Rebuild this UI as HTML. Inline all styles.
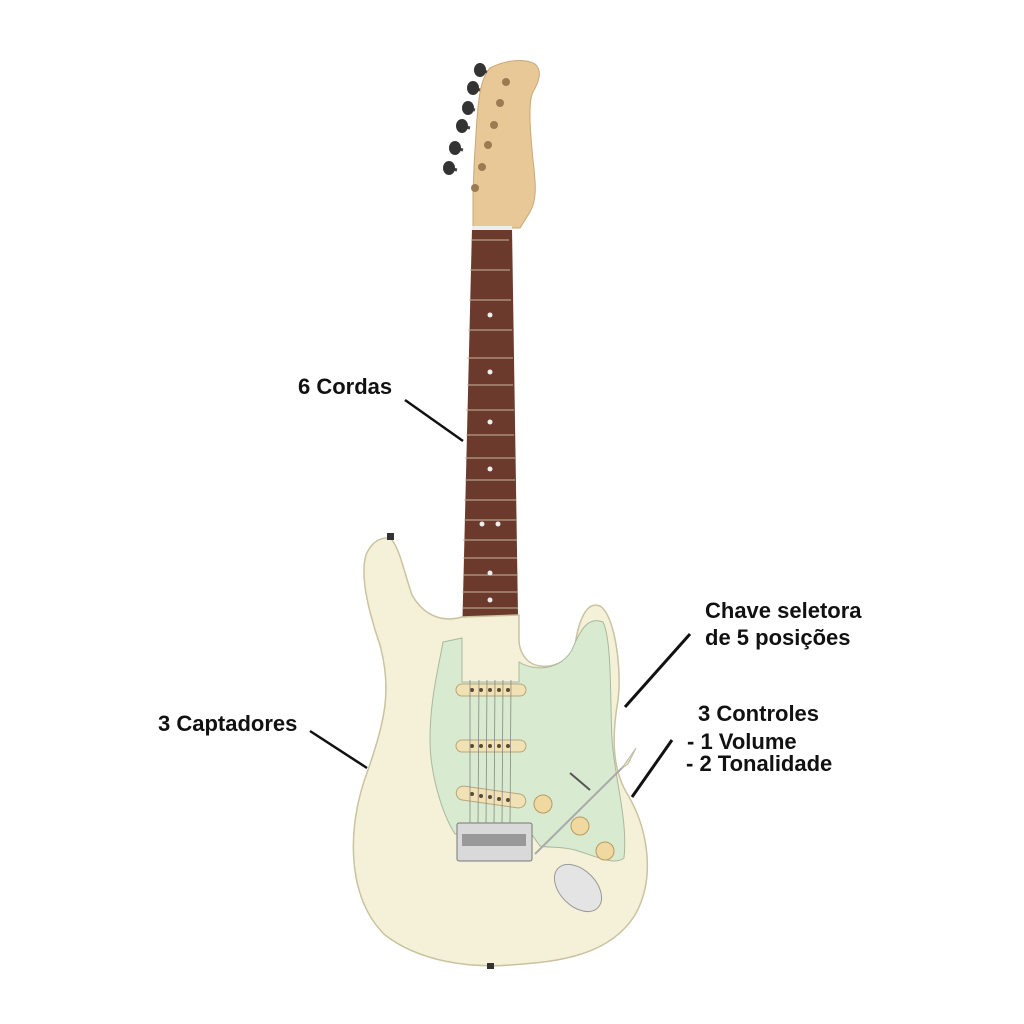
<!DOCTYPE html>
<html><head><meta charset="utf-8"><style>
html,body{margin:0;padding:0;background:#fff;width:1024px;height:1024px;overflow:hidden}
svg{display:block}
text{font-family:"Liberation Sans",sans-serif;font-weight:bold;font-size:22px;fill:#111}
</style></head><body>
<svg width="1024" height="1024" viewBox="0 0 1024 1024">
<!-- headstock -->
<path d="M473,228 L473,193 C474,160 476,130 478,107 C480,88 483,76 490,68 C505,60 525,58 535,64 C542,70 540,80 533,92 C528,102 530,130 533,160 C536,185 537,200 530,212 L520,228 Z" fill="#e8c896" stroke="#c9a777" stroke-width="1"/>
<g stroke="#444" stroke-width="3"><line x1="487" y1="72" x2="478" y2="70"/><line x1="480" y1="90" x2="471" y2="88"/><line x1="475" y1="110" x2="466" y2="108"/><line x1="470" y1="128" x2="461" y2="126"/><line x1="463" y1="150" x2="454" y2="148"/><line x1="457" y1="170" x2="448" y2="168"/></g>
<g fill="#333">
<ellipse cx="480" cy="70" rx="6" ry="7"/><ellipse cx="473" cy="88" rx="6" ry="7"/><ellipse cx="468" cy="108" rx="6" ry="7"/><ellipse cx="462" cy="126" rx="6" ry="7"/><ellipse cx="455" cy="148" rx="6" ry="7"/><ellipse cx="449" cy="168" rx="6" ry="7"/>
</g>
<g fill="#9c7b52">
<circle cx="506" cy="82" r="4"/><circle cx="500" cy="103" r="4"/><circle cx="494" cy="125" r="4"/><circle cx="488" cy="145" r="4"/><circle cx="482" cy="167" r="4"/><circle cx="475" cy="188" r="4"/>
</g>
<!-- neck -->
<path d="M472,228 L512,228 L519,680 L461,680 Z" fill="#6b3a2c"/>
<rect x="472" y="226" width="40" height="4" fill="#eee"/>
<g stroke="#c9b6a0" stroke-width="1">
<line x1="471" y1="240" x2="509" y2="240"/><line x1="470" y1="270" x2="510" y2="270"/><line x1="469" y1="300" x2="511" y2="300"/><line x1="468" y1="330" x2="512" y2="330"/><line x1="467" y1="358" x2="513" y2="358"/><line x1="467" y1="385" x2="513" y2="385"/><line x1="466" y1="410" x2="514" y2="410"/><line x1="466" y1="435" x2="514" y2="435"/><line x1="465" y1="458" x2="515" y2="458"/><line x1="465" y1="480" x2="515" y2="480"/><line x1="464" y1="500" x2="516" y2="500"/><line x1="464" y1="520" x2="516" y2="520"/><line x1="463" y1="540" x2="517" y2="540"/><line x1="463" y1="558" x2="517" y2="558"/><line x1="463" y1="575" x2="517" y2="575"/><line x1="462" y1="592" x2="518" y2="592"/><line x1="462" y1="608" x2="518" y2="608"/><line x1="462" y1="623" x2="518" y2="623"/><line x1="462" y1="638" x2="518" y2="638"/><line x1="462" y1="652" x2="518" y2="652"/>
</g>
<g fill="#eee"><circle cx="490" cy="315" r="2.5"/><circle cx="490" cy="372" r="2.5"/><circle cx="490" cy="422" r="2.5"/><circle cx="490" cy="469" r="2.5"/><circle cx="482" cy="524" r="2.5"/><circle cx="498" cy="524" r="2.5"/><circle cx="490" cy="573" r="2.5"/><circle cx="490" cy="600" r="2.5"/><circle cx="490" cy="626" r="2.5"/><circle cx="490" cy="648" r="2.5"/></g>
<!-- body -->
<path d="M462,617 C445,622 425,618 412,595 C405,575 400,550 392,540 C385,535 372,540 366,555 C360,575 368,610 380,645 C392,690 385,720 368,770 C345,830 348,900 385,935 C420,962 470,968 510,965 C560,962 610,955 635,915 C655,880 650,830 625,790 C612,765 612,735 618,700 C622,670 615,615 600,606 C585,600 578,625 575,645 C570,660 555,668 540,666 C525,664 519,650 519,640 L519,615 Z" fill="#f5f1d8" stroke="#c9c3a0" stroke-width="1.5"/>
<!-- pickguard -->
<path d="M443,642 L462,638 L462,682 L519,682 L519,662 C535,672 560,670 572,650 C580,630 588,616 603,622 C612,640 610,700 612,740 C615,780 628,820 624,858 C615,866 595,856 575,850 C560,846 548,848 540,846 L530,832 L455,834 C440,810 430,770 430,740 C430,700 438,670 443,642 Z" fill="#d8ead0" stroke="#a9b89e" stroke-width="1"/>
<!-- pickups -->
<g fill="#f0e2b4" stroke="#b8a67a" stroke-width="1">
<rect x="456" y="684" width="70" height="12" rx="6"/>
<rect x="456" y="740" width="70" height="12" rx="6"/>
<rect x="456" y="790" width="70" height="14" rx="7" transform="rotate(8 491 797)"/>
</g>
<g fill="#5a4a30"><circle cx="472" cy="690" r="2"/><circle cx="481" cy="690" r="2"/><circle cx="490" cy="690" r="2"/><circle cx="499" cy="690" r="2"/><circle cx="508" cy="690" r="2"/><circle cx="472" cy="746" r="2"/><circle cx="481" cy="746" r="2"/><circle cx="490" cy="746" r="2"/><circle cx="499" cy="746" r="2"/><circle cx="508" cy="746" r="2"/><circle cx="472" cy="794" r="2"/><circle cx="481" cy="796" r="2"/><circle cx="490" cy="797" r="2"/><circle cx="499" cy="799" r="2"/><circle cx="508" cy="800" r="2"/></g>
<g stroke="#888" stroke-width="0.8"><line x1="470" y1="680" x2="470" y2="825"/><line x1="479" y1="680" x2="478" y2="825"/><line x1="487" y1="680" x2="486" y2="825"/><line x1="495" y1="680" x2="494" y2="825"/><line x1="503" y1="680" x2="502" y2="825"/><line x1="511" y1="680" x2="510" y2="825"/></g>
<!-- bridge -->
<rect x="457" y="823" width="75" height="38" rx="2" fill="#d9d9d9" stroke="#777"/>
<rect x="462" y="834" width="64" height="12" fill="#999"/>
<!-- knobs -->
<g fill="#efd9a0" stroke="#b89a5e"><circle cx="543" cy="804" r="9"/><circle cx="580" cy="826" r="9"/><circle cx="605" cy="851" r="9"/></g>
<line x1="570" y1="773" x2="590" y2="790" stroke="#555" stroke-width="2"/>
<!-- trem arm -->
<line x1="535" y1="854" x2="630" y2="760" stroke="#aaa" stroke-width="2"/>
<path d="M622,768 L636,748 L628,764 Z" fill="#efe5b8" stroke="#bba"/>
<!-- jack -->
<ellipse cx="578" cy="888" rx="18" ry="28" transform="rotate(-45 578 888)" fill="#e4e4e4" stroke="#999"/>
<!-- strap buttons -->
<rect x="387" y="533" width="7" height="7" fill="#333"/><rect x="487" y="963" width="7" height="6" fill="#333"/>
<!-- labels -->
<text x="298" y="394">6 Cordas</text>
<line x1="405" y1="400" x2="463" y2="441" stroke="#111" stroke-width="2.5"/>
<text x="705" y="618">Chave seletora</text>
<text x="705" y="645">de 5 posições</text>
<line x1="690" y1="634" x2="625" y2="707" stroke="#111" stroke-width="3"/>
<text x="698" y="721">3 Controles</text>
<text x="687" y="749">- 1 Volume</text>
<text x="686" y="771">- 2 Tonalidade</text>
<line x1="672" y1="740" x2="632" y2="797" stroke="#111" stroke-width="3"/>
<text x="158" y="731">3 Captadores</text>
<line x1="310" y1="731" x2="367" y2="768" stroke="#111" stroke-width="2.5"/>
</svg>
</body></html>
